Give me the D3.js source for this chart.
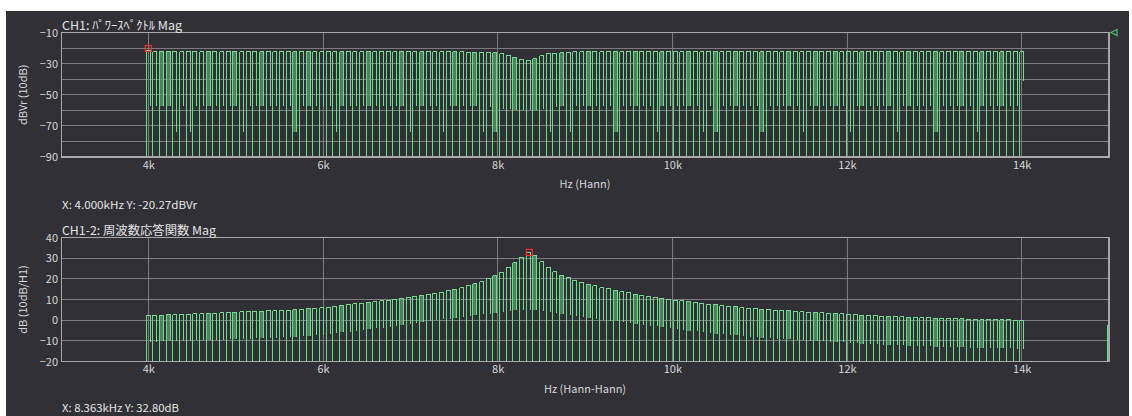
<!DOCTYPE html>
<html><head><meta charset="utf-8">
<script src="https://cdn.jsdelivr.net/npm/d3@7"></script>
<style>
html,body{margin:0;padding:0;background:#fff;}
svg{display:block;}
text{font-family:"Noto Sans CJK JP","Noto Sans",sans-serif;}
</style></head><body>
<svg id="c" width="1132" height="416"></svg>
<script>
// ---- data ----
const toneHz = [4000,4076,4153,4229,4305,4382,4458,4534,4611,4687,4763,4840,4916,4992,5069,5145,5221,5298,5374,5450,
5527,5603,5679,5756,5832,5908,5985,6061,6137,6214,6290,6366,6443,6519,6595,6672,6748,6824,6901,6977,
7053,7130,7206,7282,7359,7435,7511,7588,7664,7740,7817,7893,7969,8046,8122,8198,8275,8351,8427,8504,
8580,8656,8733,8809,8885,8962,9038,9114,9191,9267,9344,9420,9496,9573,9649,9725,9802,9878,9954,10031,
10107,10183,10260,10336,10412,10489,10565,10641,10718,10794,10870,10947,11023,11099,11176,11252,11328,11405,11481,11557,
11634,11710,11786,11863,11939,12015,12092,12168,12244,12321,12397,12473,12550,12626,12702,12779,12855,12931,13008,13084,
13160,13237,13313,13389,13466,13542,13618,13695,13771,13847,13924,14000];

// CH1 power spectrum: lobe top level and level the falling edge reaches (dBVr)
const spectrumTopDb = [-21.5,-22.3,-22.1,-22.4,-22.2,-22.3,-22.5,-22.2,-22.4,-22.3,
-22.2,-22.4,-22.3,-22.1,-22.4,-22.3,-22.2,-22.5,-22.3,-22.4,
-22.2,-22.3,-22.4,-22.2,-22.3,-22.5,-22.3,-22.2,-22.4,-22.3,
-22.2,-22.4,-22.3,-22.3,-22.5,-22.2,-22.4,-22.3,-22.2,-22.4,
-22.3,-22.5,-22.3,-22.4,-22.3,-22.5,-22.4,-22.5,-22.6,-22.6,
-22.7,-22.8,-23.0,-23.5,-24.5,-25.8,-27.2,-28.3,-26.8,-25.0,
-23.8,-23.3,-22.9,-22.6,-22.4,-22.3,-22.4,-22.2,-22.3,-22.4,
-22.2,-22.3,-22.5,-22.3,-22.2,-22.4,-22.3,-22.3,-22.2,-22.4,
-22.3,-22.5,-22.2,-22.3,-22.4,-22.2,-22.3,-22.4,-22.3,-22.2,
-22.4,-22.3,-22.5,-22.2,-22.3,-22.4,-22.3,-22.2,-22.4,-22.3,
-22.3,-22.2,-22.4,-22.3,-22.5,-22.3,-22.2,-22.4,-22.3,-22.3,
-22.2,-22.4,-22.3,-22.5,-22.3,-22.2,-22.4,-22.3,-22.2,-22.4,
-22.3,-22.3,-22.2,-22.4,-22.3,-22.5,-22.3,-22.2,-22.4,-22.3,
-22.2,-22.4];
const spectrumTroughDb = [-57,-57,-57,-57,-74,-57,-74,-57,-57,-57,
-57,-57,-57,-57,-74,-57,-57,-57,-57,-57,
-57,-57,-74,-57,-57,-57,-57,-57,-74,-57,
-57,-57,-57,-57,-57,-57,-57,-57,-57,-74,
-57,-57,-57,-57,-74,-57,-57,-57,-57,-57,
-74,-58,-74,-59,-59,-60,-60,-60,-60,-59,
-74,-58,-57,-74,-57,-57,-57,-57,-57,-57,
-74,-57,-57,-57,-57,-57,-74,-57,-57,-57,
-57,-57,-57,-74,-57,-74,-57,-57,-57,-57,
-57,-57,-74,-57,-57,-57,-57,-57,-74,-57,
-57,-57,-57,-57,-57,-74,-57,-57,-57,-57,
-57,-57,-74,-57,-57,-57,-57,-57,-74,-57,
-57,-57,-57,-57,-74,-57,-57,-57,-57,-57,
-57,-41];

// CH1-2 frequency response magnitude (dB)
const responseTopDb = [2.3,2.4,2.5,2.6,2.7,2.8,2.9,3.0,3.1,3.2,
3.4,3.5,3.7,3.8,4.0,4.1,4.3,4.4,4.5,4.6,
4.7,4.8,5.0,5.3,5.5,5.8,6.0,6.3,6.7,7.1,
7.5,7.9,8.3,8.6,9.0,9.3,9.7,10.1,10.5,11.0,
11.5,12.0,12.5,13.1,13.6,14.3,15.0,15.8,16.6,17.6,
18.7,20.0,21.6,23.3,25.3,27.8,30.5,32.8,31.5,28.2,
25.4,23.5,21.8,20.5,19.4,18.4,17.5,16.6,15.8,15.1,
14.4,13.8,13.2,12.6,12.0,11.5,11.0,10.5,10.1,9.7,
9.3,8.9,8.5,8.1,7.7,7.4,7.0,6.7,6.4,6.1,
5.8,5.6,5.3,5.1,4.9,4.7,4.5,4.3,4.1,3.9,
3.7,3.5,3.4,3.2,3.0,2.9,2.7,2.5,2.3,2.1,
2.0,1.8,1.7,1.6,1.4,1.3,1.2,1.1,1.0,0.9,
0.8,0.7,0.6,0.5,0.4,0.3,0.3,0.2,0.2,0.1,
0.0,0.0];
const responseTroughDb = [-10.5,-10.4,-10.3,-10.2,-10.1,-10,-9.9,-9.8,-9.7,-9.6,
-9.5,-9.4,-9.2,-9.1,-9,-8.9,-8.7,-8.6,-8.5,-8.4,
-8.3,-8.2,-8,-7.7,-7.5,-7.2,-7,-6.7,-6.3,-5.9,
-5.5,-5.1,-4.7,-4.4,-4,-3.7,-3.3,-2.9,-2.5,-2,
-1.5,-1,-0.5,0,0.4,0.8,1.2,1.6,2,2.4,
2.8,3.2,3.6,4,4.4,4.8,5,5,4.8,4.4,
4,3.5,3,2.5,2,1.5,1,0.6,0.2,-0.2,
-0.6,-1,-1.4,-1.8,-2.2,-2.6,-3,-3.4,-3.8,-4.2,
-4.6,-5,-5.4,-5.8,-6.2,-6.5,-6.8,-7.1,-7.4,-7.7,
-8,-8.2,-8.5,-8.7,-8.9,-9.1,-9.3,-9.5,-9.7,-9.9,
-10.1,-10.3,-10.4,-10.6,-10.8,-10.9,-11.1,-11.3,-11.5,-11.7,
-11.8,-12,-12.1,-12.2,-12.4,-12.5,-12.6,-12.7,-12.8,-12.9,
-13,-13.1,-13.2,-13.3,-13.4,-13.5,-13.5,-13.6,-13.6,-13.7,
-13.8,-13.8];
// tones whose lobe shows the dense (filled) trace band
const bandedTones = [2,3,9,13,17,22,24,29,33,38,41,46,49,52,55,58,62,66,70,73,77,81,85,88,92,96,100,103,107,111,114,118,122,125,128];
const responseEdgeHz = [14980];
const responseEdgeDb = [-2.4];

const xTickHz = [4000,6000,8000,10000,12000,14000];
const xTickLabels = ["4k","6k","8k","10k","12k","14k"];
const spectrumTickDb = [-10,-30,-50,-70,-90];
const spectrumTickLabels = ["\u221210","\u221230","\u221250","\u221270","\u221290"];
const spectrumGridDb = [-20,-30,-40,-50,-60,-70,-80];
const responseTickDb = [40,30,20,10,0,-10,-20];
const responseTickLabels = ["40","30","20","10","0","\u221210","\u221220"];
const responseGridDb = [30,20,10,0,-10];
const spectrumCursor = [4000, -20.27];
const responseCursor = [8363, 32.80];

// ---- drawing ----
const svg = d3.select('#c');
svg.append('rect').attr('x',6).attr('y',11).attr('width',1123).attr('height',405).attr('fill','#303036');

const x = d3.scaleLinear().domain([3000,15000]).range([61,1109]);
const lobeHalfHz = 23;
const GRID = '#7d7d7f', FRAME = '#a8a8aa', TXT = '#d6d6d6';

function panel(o){
  const y = d3.scaleLinear().domain(o.dom).range(o.rng);
  const g = svg.append('g');
  const yb = y(o.dom[0]), yt = y(o.dom[1]);
  // grid
  g.append('g').selectAll('line').data(o.grid).join('line')
    .attr('x1',61).attr('x2',1109).attr('y1',d=>y(d)).attr('y2',d=>y(d))
    .attr('stroke',GRID).attr('stroke-width',1).attr('shape-rendering','crispEdges');
  g.append('g').selectAll('line').data(xTickHz).join('line')
    .attr('x1',d=>x(d)).attr('x2',d=>x(d)).attr('y1',yt).attr('y2',yb)
    .attr('stroke',GRID).attr('stroke-width',1).attr('shape-rendering','crispEdges');
  // trace
  const clip = 'clip'+o.id;
  svg.append('clipPath').attr('id',clip).append('rect').attr('x',61).attr('y',yt).attr('width',1048).attr('height',yb-yt);
  const tr = g.append('g').attr('clip-path',`url(#${clip})`).attr('fill','none').attr('shape-rendering','crispEdges');
  const idx = d3.range(toneHz.length);
  tr.selectAll('rect.band').data(bandedTones).join('rect').attr('class','band')
    .attr('x',i=>x(toneHz[i]-lobeHalfHz)).attr('width',i=>x(toneHz[i]+lobeHalfHz)-x(toneHz[i]-lobeHalfHz))
    .attr('y',i=>y(o.top[i])).attr('height',i=>y(o.trough[i])-y(o.top[i]))
    .attr('fill','#5a9a6a').attr('fill-opacity',0.75);
  tr.selectAll('line.full').data(idx).join('line').attr('class','full')
    .attr('x1',i=>x(toneHz[i]-lobeHalfHz)).attr('x2',i=>x(toneHz[i]-lobeHalfHz))
    .attr('y1',yb).attr('y2',i=>y(o.top[i]))
    .attr('stroke','#5de480').attr('stroke-width',1);
  tr.selectAll('path.lobe').data(idx).join('path').attr('class','lobe')
    .attr('d',i=>{
      const a = x(toneHz[i]-lobeHalfHz), b = x(toneHz[i]+lobeHalfHz);
      return `M${a},${y(o.top[i])}L${b},${y(o.top[i])}L${b},${y(o.trough[i])}`;
    })
    .attr('stroke','#78d892').attr('stroke-width',1);
  // frame
  g.append('rect').attr('x',61.5).attr('y',yt).attr('width',1047.5).attr('height',yb-yt)
    .attr('fill','none').attr('stroke',FRAME).attr('stroke-width',1.5).attr('shape-rendering','crispEdges');
  if(o.edgeHz){
    tr.selectAll('line.edge').data(o.edgeHz).join('line').attr('class','edge')
      .attr('x1',d=>x(d)).attr('x2',d=>x(d)).attr('y1',yb).attr('y2',(d,i)=>y(o.edgeDb[i]))
      .attr('stroke','#5de480').attr('stroke-width',1.5);
  }
  // axes
  const ay = g.append('g').attr('transform','translate(61,0)')
    .call(d3.axisLeft(y).tickValues(o.ticks).tickFormat((d,i)=>o.tickLabels[i]).tickSize(0).tickPadding(3));
  ay.select('.domain').remove();
  ay.selectAll('text').attr('fill',TXT).style('font-size','11px').style('font-family','"Noto Sans CJK JP",sans-serif');
  const ax = g.append('g').attr('transform',`translate(0,${yb})`)
    .call(d3.axisBottom(x).tickValues(xTickHz).tickFormat((d,i)=>xTickLabels[i]).tickSize(0).tickPadding(4));
  ax.select('.domain').remove();
  ax.selectAll('text').attr('fill',TXT).style('font-size','11px').style('font-family','"Noto Sans CJK JP",sans-serif');
  // titles
  g.append('text').attr('x',62).attr('y',yt-3).attr('fill','#e4e4e4').style('font-size','12px')
    .attr('textLength',o.titleLen).attr('lengthAdjust','spacingAndGlyphs').text(o.title);
  g.append('text').attr('x',585).attr('y',yb+31).attr('text-anchor','middle').attr('fill',TXT).style('font-size','11px').text(o.xTitle);
  g.append('text').attr('transform',`translate(27,${(yt+yb)/2}) rotate(-90)`).attr('text-anchor','middle')
    .attr('fill',TXT).style('font-size','11px').text(o.yTitle);
  g.append('text').attr('x',62).attr('y',o.curY).attr('fill','#e4e4e4').style('font-size','11px')
    .attr('textLength',o.curLen).attr('lengthAdjust','spacingAndGlyphs').text(o.curText);
  // cursor marker
  g.append('rect').attr('x',x(o.cursor[0])-3).attr('y',y(o.cursor[1])-3).attr('width',6).attr('height',6)
    .attr('fill','none').attr('stroke','#ff2a2a').attr('stroke-width',1.2);
  return y;
}

const yS = panel({id:'s', dom:[-90,-10], rng:[157,32.5], grid:spectrumGridDb, ticks:spectrumTickDb, tickLabels:spectrumTickLabels,
  top:spectrumTopDb, trough:spectrumTroughDb, title:'CH1: \uFF8A\uFF9F\uFF9C\uFF70\uFF7D\uFF8D\uFF9F\uFF78\uFF84\uFF99 Mag', titleLen:120,
  xTitle:'Hz (Hann)', yTitle:'dBVr (10dB)', curText:'X: 4.000kHz Y: -20.27dBVr', curY:208.5, curLen:135, cursor:spectrumCursor});
panel({id:'r', dom:[-20,40], rng:[361.5,237.5], grid:responseGridDb, ticks:responseTickDb, tickLabels:responseTickLabels,
  top:responseTopDb, trough:responseTroughDb, title:'CH1-2: 周波数応答関数 Mag', titleLen:154,
  xTitle:'Hz (Hann-Hann)', yTitle:'dB (10dB/H1)', curText:'X: 8.363kHz Y: 32.80dB', curY:411.5, curLen:117, cursor:responseCursor,
  edgeHz:responseEdgeHz, edgeDb:responseEdgeDb});

// reference level marker at right of top panel
svg.append('path').attr('d',`M${1111},${yS(-10)}L${1117},${yS(-10)-3}L${1117},${yS(-10)+3}Z`)
  .attr('fill','none').attr('stroke','#4cb86a').attr('stroke-width',1.3);
</script>
</body></html>
